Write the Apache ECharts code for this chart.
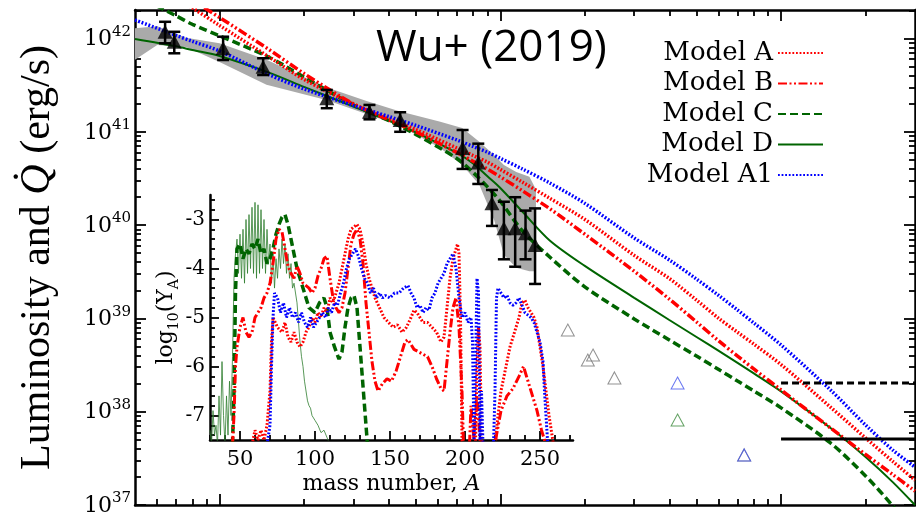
<!DOCTYPE html>
<html><head><meta charset="utf-8">
<script src="https://cdn.jsdelivr.net/npm/echarts@6/dist/echarts.min.js"></script>
<style>html,body{margin:0;padding:0;background:#fff}#c{width:916px;height:512px}</style>
</head><body><div id="c"></div>
<script>
// ---------- main panel: time (days) and luminosity (erg/s) ----------
const modelT = [0.5, 0.7, 0.8, 1, 1.5, 2, 3, 4, 5, 7, 8, 9, 10, 12, 15, 20, 30, 40, 50, 60, 70, 80, 100, 150, 200, 250, 300];
const modelA  = [5.4e42, 2.77e42, 2.13e42, 1.38e42, 6.35e41, 3.64e41, 1.98e41, 1.40e41, 1.06e41, 6.70e40, 5.57e40, 4.73e40, 3.95e40, 2.88e40, 1.94e40, 1.15e40, 4.73e39, 2.68e39, 1.57e39, 1.00e39, 7.10e38, 5.30e38, 3.20e38, 1.12e38, 5.23e37, 2.93e37, 1.85e37];
const modelB  = [6.3e42, 3.31e42, 2.57e42, 1.68e42, 7.62e41, 4.21e41, 1.99e41, 1.35e41, 1.00e41, 6.01e40, 4.83e40, 3.99e40, 3.29e40, 2.33e40, 1.50e40, 7.99e39, 3.20e39, 1.61e39, 9.15e38, 5.73e38, 3.95e38, 2.87e38, 1.71e38, 6.69e37, 3.48e37, 2.12e37, 1.41e37];
const modelC  = [2.93e42, 1.75e42, 1.42e42, 1.07e42, 6.30e41, 3.86e41, 1.94e41, 1.32e41, 9.38e40, 5.18e40, 3.67e40, 2.57e40, 1.80e40, 8.65e39, 4.55e39, 2.18e39, 9.86e38, 5.87e38, 3.95e38, 2.83e38, 2.13e38, 1.67e38, 1.10e38, 4.62e37, 2.05e37, 9.75e36, 4.77e36];
const modelD  = [9.88e41, 8.25e41, 7.53e41, 6.49e41, 4.31e41, 3.03e41, 1.86e41, 1.32e41, 9.86e40, 5.94e40, 4.58e40, 3.33e40, 2.50e40, 1.39e40, 6.84e39, 3.65e39, 1.66e39, 9.61e38, 6.32e38, 4.48e38, 3.33e38, 2.57e38, 1.65e38, 6.69e37, 3.27e37, 1.76e37, 1.0e37];
const modelA1 = [1.58e42, 1.08e42, 9.33e41, 7.35e41, 4.10e41, 2.88e41, 1.91e41, 1.46e41, 1.17e41, 8.17e40, 6.96e40, 6.04e40, 5.20e40, 3.99e40, 2.83e40, 1.71e40, 7.27e39, 4.23e39, 2.64e39, 1.76e39, 1.23e39, 8.93e38, 5.19e38, 1.71e38, 7.20e37, 3.88e37, 2.55e37];

const obsT  = [0.64, 0.69, 1.03, 1.43, 2.41, 3.42, 4.40, 7.34, 8.35, 9.34, 10.3, 11.3, 12.3, 13.3];
const obsL  = [1.18e42, 9.24e41, 7.85e41, 4.99e41, 2.29e41, 1.64e41, 1.34e41, 6.7e40, 4.69e40, 1.71e40, 9.24e39, 9.24e39, 8.17e39, 6.12e39];
const obsLo = [8.88e41, 6.94e41, 5.88e41, 4.06e41, 1.79e41, 1.36e41, 1.0e41, 4.0e40, 2.76e40, 9.8e39, 4.3e39, 3.58e39, 4.3e39, 2.34e39];
const obsHi = [1.51e42, 1.18e42, 1.045e42, 6.14e41, 2.81e41, 1.94e41, 1.62e41, 1.045e41, 7.46e40, 2.38e40, 1.78e40, 1.99e40, 1.43e40, 1.51e40];

const bandT  = [0.5, 0.6, 0.76, 1.0, 1.47, 2.4, 3.34, 4.37, 6.07, 7.32, 8.42, 9.52, 10.3, 11.4, 12.7, 13.4];
const bandHi = [1.29e42, 1.35e42, 1.02e42, 8.9e41, 5.9e41, 3.0e41, 2.14e41, 1.66e41, 1.29e41, 1.10e41, 7.8e40, 5.6e40, 4.4e40, 3.7e40, 3.3e40, 2.4e40];
const bandLo = [5.9e41, 8.5e41, 8.1e41, 5.6e41, 3.2e41, 2.19e41, 1.55e41, 1.17e41, 6.8e40, 4.4e40, 2.7e40, 1.12e40, 4.8e39, 3.5e39, 3.2e39, 3.2e39];

const lateGrayT  = [17.4, 20.5, 21.4, 25.5, 73.9];
const lateGrayL  = [7.51e38, 3.58e38, 4.05e38, 2.30e38, 3.44e37];
const lateBlueT  = [42.8, 73.9];
const lateBlueL  = [2.03e38, 3.44e37];
const lateGreenT = [42.8];
const lateGreenL = [8.15e37];

const limitT = [100, 300];
const limitDashed = [2.03e38, 2.03e38];
const limitSolid  = [5.1e37, 5.1e37];

const xMajor = [1, 10, 100];
const xMinor = [0.6, 0.7, 0.8, 0.9, 2, 3, 4, 5, 6, 7, 8, 9, 20, 30, 40, 50, 60, 70, 80, 90, 200];
const yMajor = [1e37, 1e38, 1e39, 1e40, 1e41, 1e42];
const yMinor = [2e37,3e37,4e37,5e37,6e37,7e37,8e37,9e37, 2e38,3e38,4e38,5e38,6e38,7e38,8e38,9e38,
                2e39,3e39,4e39,5e39,6e39,7e39,8e39,9e39, 2e40,3e40,4e40,5e40,6e40,7e40,8e40,9e40,
                2e41,3e41,4e41,5e41,6e41,7e41,8e41,9e41, 2e42];

// ---------- inset: mass number A vs log10(Y_A) ----------
const insetA = [[58,-7.6],[60,-7.3],[62,-7.5],[64,-7.3],[66,-7.5],[68,-7.2],[70,-6.5],[71,-5.5],[72,-5.0],[75,-5.2],[78,-5.3],[80,-5.1],[82,-5.4],[84,-5.5],[86,-5.3],[88,-5.5],[90,-5.6],[92,-5.5],[94,-5.3],[96,-5.2],[98,-5.0],[100,-5.1],[102,-4.9],[104,-5.0],[106,-4.8],[108,-4.9],[110,-4.6],[112,-4.7],[114,-4.5],[116,-4.3],[118,-4.0],[120,-3.7],[122,-3.4],[124,-3.2],[126,-3.15],[128,-3.1],[130,-3.2],[132,-3.5],[134,-3.9],[136,-4.2],[138,-4.4],[140,-4.6],[143,-4.8],[146,-5.0],[149,-5.1],[152,-5.2],[155,-5.15],[158,-5.3],[161,-5.2],[164,-5.0],[166,-4.85],[168,-4.9],[170,-5.0],[172,-5.1],[175,-5.1],[178,-5.2],[181,-5.3],[184,-5.5],[186,-5.4],[188,-4.8],[190,-4.2],[192,-3.8],[194,-3.6],[195,-3.5],[196,-3.7],[197,-5.0],[198,-7.5],[199,-7.6],[207,-7.6],[208,-6.0],[209,-5.2],[210,-5.6],[211,-7.5],[212,-7.6],[220,-7.6],[222,-7.0],[224,-6.5],[226,-6.2],[228,-5.9],[230,-5.6],[232,-5.4],[234,-5.2],[236,-5.0],[238,-4.7],[240,-4.65],[242,-4.8],[244,-4.9],[246,-5.0],[248,-5.2],[250,-5.6],[252,-6.0],[254,-6.5],[256,-7.0],[258,-7.4],[259,-7.6]];
const insetB = [[45,-7.6],[46,-7.0],[47,-6.0],[48,-5.6],[50,-5.2],[52,-5.0],[54,-5.3],[56,-5.4],[58,-5.3],[60,-5.0],[62,-4.9],[64,-4.8],[66,-4.6],[68,-4.5],[70,-4.3],[72,-3.9],[74,-3.4],[76,-3.2],[78,-3.25],[80,-3.6],[82,-3.95],[84,-4.1],[86,-4.2],[88,-3.95],[90,-4.1],[92,-4.3],[94,-4.35],[96,-4.4],[98,-4.5],[100,-4.4],[102,-4.15],[104,-4.0],[106,-3.8],[108,-3.75],[110,-4.2],[112,-4.6],[114,-4.8],[116,-4.9],[118,-4.8],[120,-4.5],[122,-4.0],[124,-3.5],[126,-3.3],[128,-3.2],[130,-3.4],[132,-3.9],[134,-4.7],[136,-5.3],[138,-5.9],[140,-6.3],[142,-6.5],[145,-6.35],[148,-6.25],[151,-6.3],[154,-6.1],[157,-5.8],[160,-5.5],[162,-5.45],[164,-5.55],[166,-5.65],[169,-5.7],[172,-5.75],[175,-5.8],[178,-6.0],[181,-6.25],[184,-6.45],[186,-6.5],[188,-5.9],[190,-5.3],[192,-4.8],[194,-4.6],[196,-5.2],[198,-6.5],[199,-7.6],[203,-7.6],[204,-6.8],[206,-7.5],[208,-6.6],[210,-7.5],[211,-7.6],[220,-7.6],[221,-7.4],[224,-6.9],[228,-6.6],[232,-6.45],[236,-6.2],[239,-6.0],[242,-6.3],[245,-6.6],[248,-6.9],[251,-7.3],[253,-7.5],[254,-7.6]];
const insetC = [[45,-7.6],[46,-6.5],[47,-4.5],[48,-3.6],[50,-3.5],[52,-3.8],[54,-3.6],[56,-3.7],[58,-3.5],[60,-3.6],[62,-3.4],[64,-3.7],[66,-3.6],[68,-3.9],[70,-3.8],[72,-3.6],[74,-3.3],[76,-3.1],[78,-2.95],[80,-2.9],[82,-3.1],[84,-3.4],[86,-3.7],[88,-4.0],[90,-4.2],[93,-4.5],[96,-4.8],[100,-4.9],[103,-4.7],[106,-4.6],[108,-4.8],[110,-5.3],[113,-5.6],[116,-5.85],[118,-5.7],[120,-5.2],[122,-4.8],[124,-4.6],[126,-4.55],[128,-4.8],[130,-5.6],[132,-6.4],[134,-7.2],[135,-7.6]];
const insetD = [[30,-7.3],[31,-7.6],[32,-6.9],[33,-7.4],[34,-7.2],[35,-7.6],[36,-6.6],[37,-7.4],[38,-5.9],[39,-7.0],[40,-7.6],[41,-6.6],[42,-7.4],[43,-6.3],[44,-7.0],[45,-5.8],[46,-4.2],[47,-3.7],[48,-3.4],[49,-4.1],[50,-3.3],[51,-4.2],[52,-3.2],[53,-4.3],[54,-3.0],[55,-4.1],[56,-2.9],[57,-4.0],[58,-2.75],[59,-4.1],[60,-2.65],[61,-4.2],[62,-2.7],[63,-4.1],[64,-2.8],[65,-4.0],[66,-3.0],[67,-4.1],[68,-3.2],[69,-3.9],[70,-3.5],[71,-4.3],[72,-3.7],[73,-4.4],[74,-3.8],[75,-4.2],[76,-3.6],[77,-4.0],[78,-3.4],[79,-3.9],[80,-3.5],[81,-4.1],[82,-3.7],[83,-4.2],[84,-3.9],[85,-4.4],[86,-4.3],[87,-4.5],[88,-4.7],[89,-5.1],[90,-5.5],[91,-5.8],[92,-6.0],[93,-6.3],[94,-6.5],[95,-6.7],[96,-6.8],[97,-6.85],[98,-7.0],[99,-7.05],[100,-7.1],[102,-7.2],[104,-7.35],[106,-7.3],[108,-7.45],[110,-7.6]];
const insetA1 = [[68,-7.6],[70,-7.2],[71,-6.0],[72,-5.0],[73,-4.5],[75,-4.6],[77,-4.9],[79,-4.7],[81,-5.0],[83,-4.8],[85,-5.0],[87,-4.9],[89,-5.1],[91,-4.9],[93,-5.1],[95,-5.2],[97,-5.0],[99,-5.2],[101,-5.1],[103,-5.0],[105,-4.9],[107,-5.0],[109,-4.8],[111,-4.9],[113,-4.7],[115,-4.75],[117,-4.5],[119,-4.3],[121,-4.0],[123,-3.8],[125,-3.7],[127,-3.6],[129,-3.75],[131,-4.0],[133,-4.2],[135,-4.3],[137,-4.5],[139,-4.4],[141,-4.6],[143,-4.5],[145,-4.6],[147,-4.55],[150,-4.6],[153,-4.5],[156,-4.5],[159,-4.4],[162,-4.35],[164,-4.5],[166,-4.6],[168,-4.8],[170,-4.75],[172,-4.9],[174,-4.8],[176,-4.85],[178,-4.6],[180,-4.5],[182,-4.3],[184,-4.2],[186,-4.1],[188,-3.9],[190,-3.8],[192,-3.7],[194,-4.0],[196,-4.6],[198,-5.0],[200,-4.9],[202,-5.1],[204,-5.0],[205,-5.5],[206,-7.5],[207,-6.0],[208,-4.2],[209,-4.5],[210,-7.5],[211,-6.5],[212,-7.6],[219,-7.6],[220,-6.5],[221,-4.6],[222,-4.4],[224,-4.5],[226,-4.6],[228,-4.55],[230,-4.7],[232,-4.75],[234,-4.7],[236,-4.6],[238,-4.75],[240,-4.9],[242,-4.95],[244,-5.0],[246,-5.1],[248,-5.3],[250,-5.5],[252,-5.9],[253,-6.5],[254,-7.0],[255,-7.5],[256,-7.6]];
const insetXMajor = [50, 100, 150, 200, 250];
const insetXMinor = [30, 40, 60, 70, 80, 90, 110, 120, 130, 140, 160, 170, 180, 190, 210, 220, 230, 240, 260, 270];
const insetYMajor = [-7, -6, -5, -4, -3];
const insetYMinor = [-7.4, -7.2, -6.8, -6.6, -6.4, -6.2, -5.8, -5.6, -5.4, -5.2, -4.8, -4.6, -4.4, -4.2, -3.8, -3.6, -3.4, -3.2, -2.8, -2.6];

// ---------- styles ----------
const RED = '#ff0000', GREEN = '#006400', BLUE = '#0000ff';
const DOT = [1.8, 1.8], DASHDOT = [9, 2.5, 2, 2.5, 2, 2.5], DASH = [8, 4];
const SERIF = 'DejaVu Serif';

function pairs(xs, ys) { return xs.map((x, i) => [x, ys[i]]); }

function mainX(pos, ticks, len, line) {
  return { type: 'log', logBase: 10, gridIndex: 0, position: pos, min: 0.5, max: 300,
    axisLine: { show: line, onZero: false, lineStyle: { color: '#000', width: 2.5 } },
    axisTick: { show: true, inside: true, length: len, customValues: ticks, lineStyle: { color: '#000', width: 1.8 } },
    axisLabel: { show: false }, splitLine: { show: false } };
}
function mainY(pos, ticks, len, line, labels) {
  const ax = { type: 'log', logBase: 10, gridIndex: 0, position: pos, min: 1e37, max: 2.02e42,
    axisLine: { show: line, onZero: false, lineStyle: { color: '#000', width: 2.5 } },
    axisTick: { show: true, inside: true, length: len, customValues: ticks, lineStyle: { color: '#000', width: 1.8 } },
    axisLabel: { show: false }, splitLine: { show: false } };
  if (labels) {
    ax.axisLabel = { show: true, customValues: yMajor, margin: 4, color: '#000',
      formatter: v => '{b|10}{s|' + Math.round(Math.log10(v)) + '}',
      rich: { b: { fontFamily: SERIF, fontSize: 22, lineHeight: 24, verticalAlign: 'bottom', color: '#000' },
              s: { fontFamily: SERIF, fontSize: 15, lineHeight: 15, padding: [0, 0, 11, 0], verticalAlign: 'bottom', color: '#000' } } };
    ax.name = 'Luminosity and {q|Q\u0307} (erg/s)';
    ax.nameLocation = 'middle'; ax.nameRotate = 90; ax.nameGap = 76;
    ax.nameTextStyle = { fontFamily: 'Liberation Serif', fontSize: 42, color: '#000',
      rich: { q: { fontFamily: 'Liberation Serif', fontStyle: 'italic', fontSize: 42, color: '#000' } } };
  }
  return ax;
}
function insetX(ticks, len, line, labels) {
  const ax = { type: 'value', gridIndex: 1, position: 'bottom', min: 30, max: 272,
    axisLine: { show: line, onZero: false, lineStyle: { color: '#000', width: 2.5 } },
    axisTick: { show: true, inside: true, length: len, customValues: ticks, lineStyle: { color: '#000', width: 1.8 } },
    axisLabel: { show: false }, splitLine: { show: false } };
  if (labels) {
    ax.axisLabel = { show: true, customValues: insetXMajor, margin: 9, fontFamily: SERIF, fontSize: 21, color: '#000' };
    ax.name = 'mass number, {i|A}'; ax.nameLocation = 'middle'; ax.nameGap = 33;
    ax.nameTextStyle = { fontFamily: SERIF, fontSize: 22, color: '#000',
      rich: { i: { fontFamily: SERIF, fontStyle: 'italic', fontSize: 22, color: '#000' } } };
  }
  return ax;
}
function insetY(ticks, len, line, labels) {
  const ax = { type: 'value', gridIndex: 1, position: 'left', min: -7.5, max: -2.5,
    axisLine: { show: line, onZero: false, lineStyle: { color: '#000', width: 2.5 } },
    axisTick: { show: true, inside: true, length: len, customValues: ticks, lineStyle: { color: '#000', width: 1.8 } },
    axisLabel: { show: false }, splitLine: { show: false } };
  if (labels) {
    ax.axisLabel = { show: true, customValues: insetYMajor, margin: 5, fontFamily: SERIF, fontSize: 20, color: '#000',
      formatter: v => String(v) };
    ax.name = '{n|log}{sub|10}{n|(Y}{sub|A}{n|)}'; ax.nameLocation = 'middle'; ax.nameRotate = 90; ax.nameGap = 30;
    ax.nameTextStyle = { fontFamily: SERIF, fontSize: 22, color: '#000',
      rich: { n: { fontFamily: SERIF, fontSize: 22, lineHeight: 24, verticalAlign: 'top', color: '#000' },
              sub: { fontFamily: SERIF, fontSize: 14, lineHeight: 14, padding: [12, 0, 0, 0], verticalAlign: 'top', color: '#000' } } };
  }
  return ax;
}

function modelLine(name, ys, color, width, type, z) {
  return { name: name, type: 'line', xAxisIndex: 0, yAxisIndex: 0, data: pairs(modelT, ys),
    symbol: 'none', showSymbol: false, smooth: 0.3, z: z || 3, clip: true,
    lineStyle: { color: color, width: width, type: type }, itemStyle: { color: color } };
}
function insetLine(name, data, color, width, type) {
  return { name: name, type: 'line', xAxisIndex: 4, yAxisIndex: 4, data: data,
    symbol: 'none', showSymbol: false, z: 2, clip: true,
    lineStyle: { color: color, width: width, type: type }, itemStyle: { color: color } };
}
function openTri(name, xs, ys, color) {
  return { name: name, type: 'scatter', xAxisIndex: 0, yAxisIndex: 0, data: pairs(xs, ys), z: 4,
    symbol: 'triangle', symbolSize: [13, 12],
    itemStyle: { color: 'rgba(0,0,0,0)', borderColor: color, borderWidth: 1 } };
}

const chart = echarts.init(document.getElementById('c'), null, { renderer: 'canvas' });
chart.setOption({
  animation: false,
  backgroundColor: '#fff',
  title: { text: 'Wu+ (2019)', left: 376, top: 26, padding: 0,
    textStyle: { fontFamily: 'Open Sans', fontSize: 44, fontWeight: 'normal', color: '#000' } },
  legend: { orient: 'vertical', right: 92, top: 40, padding: 0, align: 'right', itemWidth: 45, itemHeight: 14, itemGap: 4.5,
    selectedMode: false, data: ['Model A', 'Model B', 'Model C', 'Model D', 'Model A1'],
    itemStyle: { opacity: 0 },
    textStyle: { fontFamily: SERIF, fontSize: 26, color: '#000' } },
  grid: [
    { left: 135, top: 10, width: 780, height: 495, outerBoundsMode: 'none' },
    { left: 210, top: 195, width: 363, height: 245, outerBoundsMode: 'none' }
  ],
  xAxis: [
    mainX('bottom', xMajor, 11, true), mainX('bottom', xMinor, 6, false),
    mainX('top', xMajor, 11, true), mainX('top', xMinor, 6, false),
    insetX(insetXMajor, 9, true, true), insetX(insetXMinor, 5, false, false)
  ],
  yAxis: [
    mainY('left', yMajor, 11, true, true), mainY('left', yMinor, 6, false, false),
    mainY('right', yMajor, 11, true, false), mainY('right', yMinor, 6, false, false),
    insetY(insetYMajor, 9, true, true), insetY(insetYMinor, 5, false, false)
  ],
  series: [
    // inset abundance patterns
    insetLine('inset D', insetD, '#2e7d2e', 0.8, 'solid'),
    insetLine('inset C', insetC, GREEN, 3.5, DASH),
    insetLine('inset B', insetB, RED, 3, DASHDOT),
    insetLine('inset A', insetA, RED, 3, DOT),
    insetLine('inset A1', insetA1, BLUE, 3, DOT),
    // uncertainty band
    { name: 'band', type: 'custom', xAxisIndex: 0, yAxisIndex: 0, z: 1, silent: true,
      data: [[bandT[0], bandLo[0]]],
      renderItem: function (params, api) {
        const pts = [];
        for (let i = 0; i < bandT.length; i++) pts.push(api.coord([bandT[i], bandHi[i]]));
        for (let i = bandT.length - 1; i >= 0; i--) pts.push(api.coord([bandT[i], bandLo[i]]));
        return { type: 'polygon', shape: { points: pts }, style: { fill: '#aaaaaa' } };
      } },
    // models
    modelLine('Model D', modelD, GREEN, 2, 'solid'),
    modelLine('Model C', modelC, GREEN, 3.5, DASH),
    modelLine('Model B', modelB, RED, 3.5, DASHDOT),
    modelLine('Model A', modelA, RED, 3.5, DOT),
    modelLine('Model A1', modelA1, BLUE, 3.5, DOT),
    // limits
    { name: 'limit dashed', type: 'line', xAxisIndex: 0, yAxisIndex: 0, data: pairs(limitT, limitDashed), symbol: 'none', z: 3,
      lineStyle: { color: '#000', width: 3, type: [7, 4] } },
    { name: 'limit solid', type: 'line', xAxisIndex: 0, yAxisIndex: 0, data: pairs(limitT, limitSolid), symbol: 'none', z: 3,
      lineStyle: { color: '#000', width: 3, type: 'solid' } },
    // late-time open triangles
    openTri('late gray', lateGrayT, lateGrayL, '#777777'),
    openTri('late blue', lateBlueT, lateBlueL, '#4455ee'),
    openTri('late green', lateGreenT, lateGreenL, '#3d8b3d'),
    // error bars
    { name: 'errors', type: 'custom', xAxisIndex: 0, yAxisIndex: 0, z: 5,
      data: obsT.map((t, i) => [t, obsLo[i], obsHi[i]]),
      encode: { x: 0, y: [1, 2] },
      renderItem: function (params, api) {
        const t = api.value(0);
        const lo = api.coord([t, api.value(1)]);
        const hi = api.coord([t, api.value(2)]);
        const w = 6, st = { stroke: '#000', lineWidth: 2.5 };
        return { type: 'group', children: [
          { type: 'line', shape: { x1: lo[0], y1: lo[1], x2: hi[0], y2: hi[1] }, style: st },
          { type: 'line', shape: { x1: lo[0] - w, y1: lo[1], x2: lo[0] + w, y2: lo[1] }, style: st },
          { type: 'line', shape: { x1: hi[0] - w, y1: hi[1], x2: hi[0] + w, y2: hi[1] }, style: st }
        ] };
      } },
    { name: 'observed', type: 'scatter', xAxisIndex: 0, yAxisIndex: 0, z: 6, data: pairs(obsT, obsL),
      symbol: 'triangle', symbolSize: [15, 14], itemStyle: { color: '#000' } }
  ]
});
</script>
</body></html>
